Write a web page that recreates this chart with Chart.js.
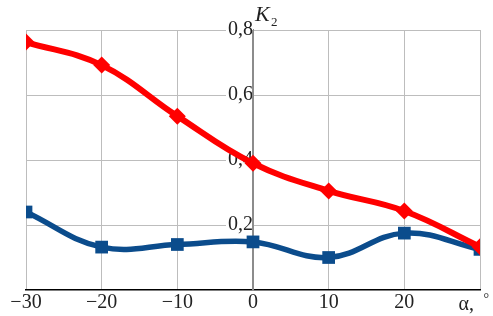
<!DOCTYPE html>
<html>
<head>
<meta charset="utf-8">
<script src="https://cdn.jsdelivr.net/npm/chart.js@4.4.1/dist/chart.umd.min.js"></script>
<style>
  html, body { margin: 0; padding: 0; background: #fff; }
  #wrap { width: 493px; height: 316px; }
</style>
</head>
<body>
<div id="wrap"><canvas id="k2Chart"></canvas></div>
<script>
// angle alpha, degrees
const angles = [-30, -20, -10, 0, 10, 20, 30];
// K2 values
const redK2 = [0.763, 0.692, 0.535, 0.39, 0.305, 0.243, 0.133];
const blueK2 = [0.24, 0.132, 0.14, 0.148, 0.10, 0.175, 0.125];
const yTicks = [0.2, 0.4, 0.6, 0.8];

const serif = "'Liberation Serif', 'DejaVu Serif', serif";

function toPoints(values) {
    return angles.map((a, i) => ({x: a, y: values[i]}));
}

// axis captions: K2 at the top of the centre axis, "α, °" at the right end
const captions = {
    id: 'captions',
    beforeDatasetsDraw(chart) {
        // the tick label backdrops cover the centre axis, so redraw it
        const ctx = chart.ctx;
        const x0 = chart.scales.x.getPixelForValue(0);
        ctx.save();
        ctx.strokeStyle = '#8c8c8c';
        ctx.lineWidth = 2;
        ctx.beginPath();
        ctx.moveTo(x0, chart.chartArea.top);
        ctx.lineTo(x0, chart.chartArea.bottom);
        ctx.stroke();
        ctx.restore();
    },
    afterDraw(chart) {
        const ctx = chart.ctx;
        const xs = chart.scales.x;
        const ys = chart.scales.y;
        const x0 = xs.getPixelForValue(0);
        ctx.save();
        ctx.fillStyle = '#222';
        ctx.textBaseline = 'alphabetic';
        ctx.textAlign = 'left';
        ctx.font = 'italic 22px ' + serif;
        ctx.fillText('K', x0 + 2, ys.top - 9);
        ctx.font = '13px ' + serif;
        ctx.fillText('2', x0 + 18, ys.top - 4);
        ctx.font = '20px ' + serif;
        ctx.textAlign = 'right';
        ctx.fillText('α,', 474, 310);
        ctx.font = '14px ' + serif;
        ctx.fillText('°', 489, 303);
        ctx.restore();
    }
};

const ctx = document.getElementById('k2Chart').getContext('2d');
const myChart = new Chart(ctx, {
    type: 'line',
    data: {
        datasets: [{
            data: toPoints(redK2),
            borderColor: '#ff0000',
            backgroundColor: '#ff0000',
            borderWidth: 6,
            tension: 0.4,
            pointStyle: 'rectRot',
            pointRadius: 8.5,
            pointBorderWidth: 0
        }, {
            data: toPoints(blueK2),
            borderColor: '#0b4c8c',
            backgroundColor: '#0b4c8c',
            borderWidth: 5.5,
            tension: 0.4,
            pointStyle: 'rect',
            pointRadius: 9,
            pointBorderWidth: 0
        }]
    },
    options: {
        responsive: true,
        maintainAspectRatio: false,
        animation: false,
        layout: {padding: {left: 26, right: 13, top: 30, bottom: 0}},
        plugins: {legend: {display: false}, tooltip: {enabled: false}},
        scales: {
            x: {
                type: 'linear',
                min: -30,
                max: 30,
                border: {color: '#000', width: 1.5},
                grid: {color: '#bdbdbd', lineWidth: 1, drawTicks: false},
                ticks: {
                    stepSize: 10,
                    autoSkip: false,
                    maxRotation: 0,
                    padding: 3,
                    color: '#222',
                    font: {family: serif, size: 20, lineHeight: 1.0},
                    callback: v => v === 30 ? '' : String(v).replace('-', '\u2212')
                }
            },
            y: {
                type: 'linear',
                position: {x: 0},
                min: 0,
                max: 0.8,
                afterBuildTicks: scale => {
                    scale.ticks = yTicks.map(v => ({value: v}));
                },
                border: {color: '#8c8c8c', width: 2},
                grid: {color: '#bdbdbd', lineWidth: 1, drawTicks: false},
                ticks: {
                    padding: 3,
                    color: '#222',
                    font: {family: serif, size: 20},
                    showLabelBackdrop: true,
                    backdropColor: '#fff',
                    backdropPadding: {top: 0, bottom: 0, left: 2, right: 0},
                    callback: v => v.toFixed(1).replace('.', ',')
                }
            }
        }
    },
    plugins: [captions]
});
</script>
</body>
</html>
